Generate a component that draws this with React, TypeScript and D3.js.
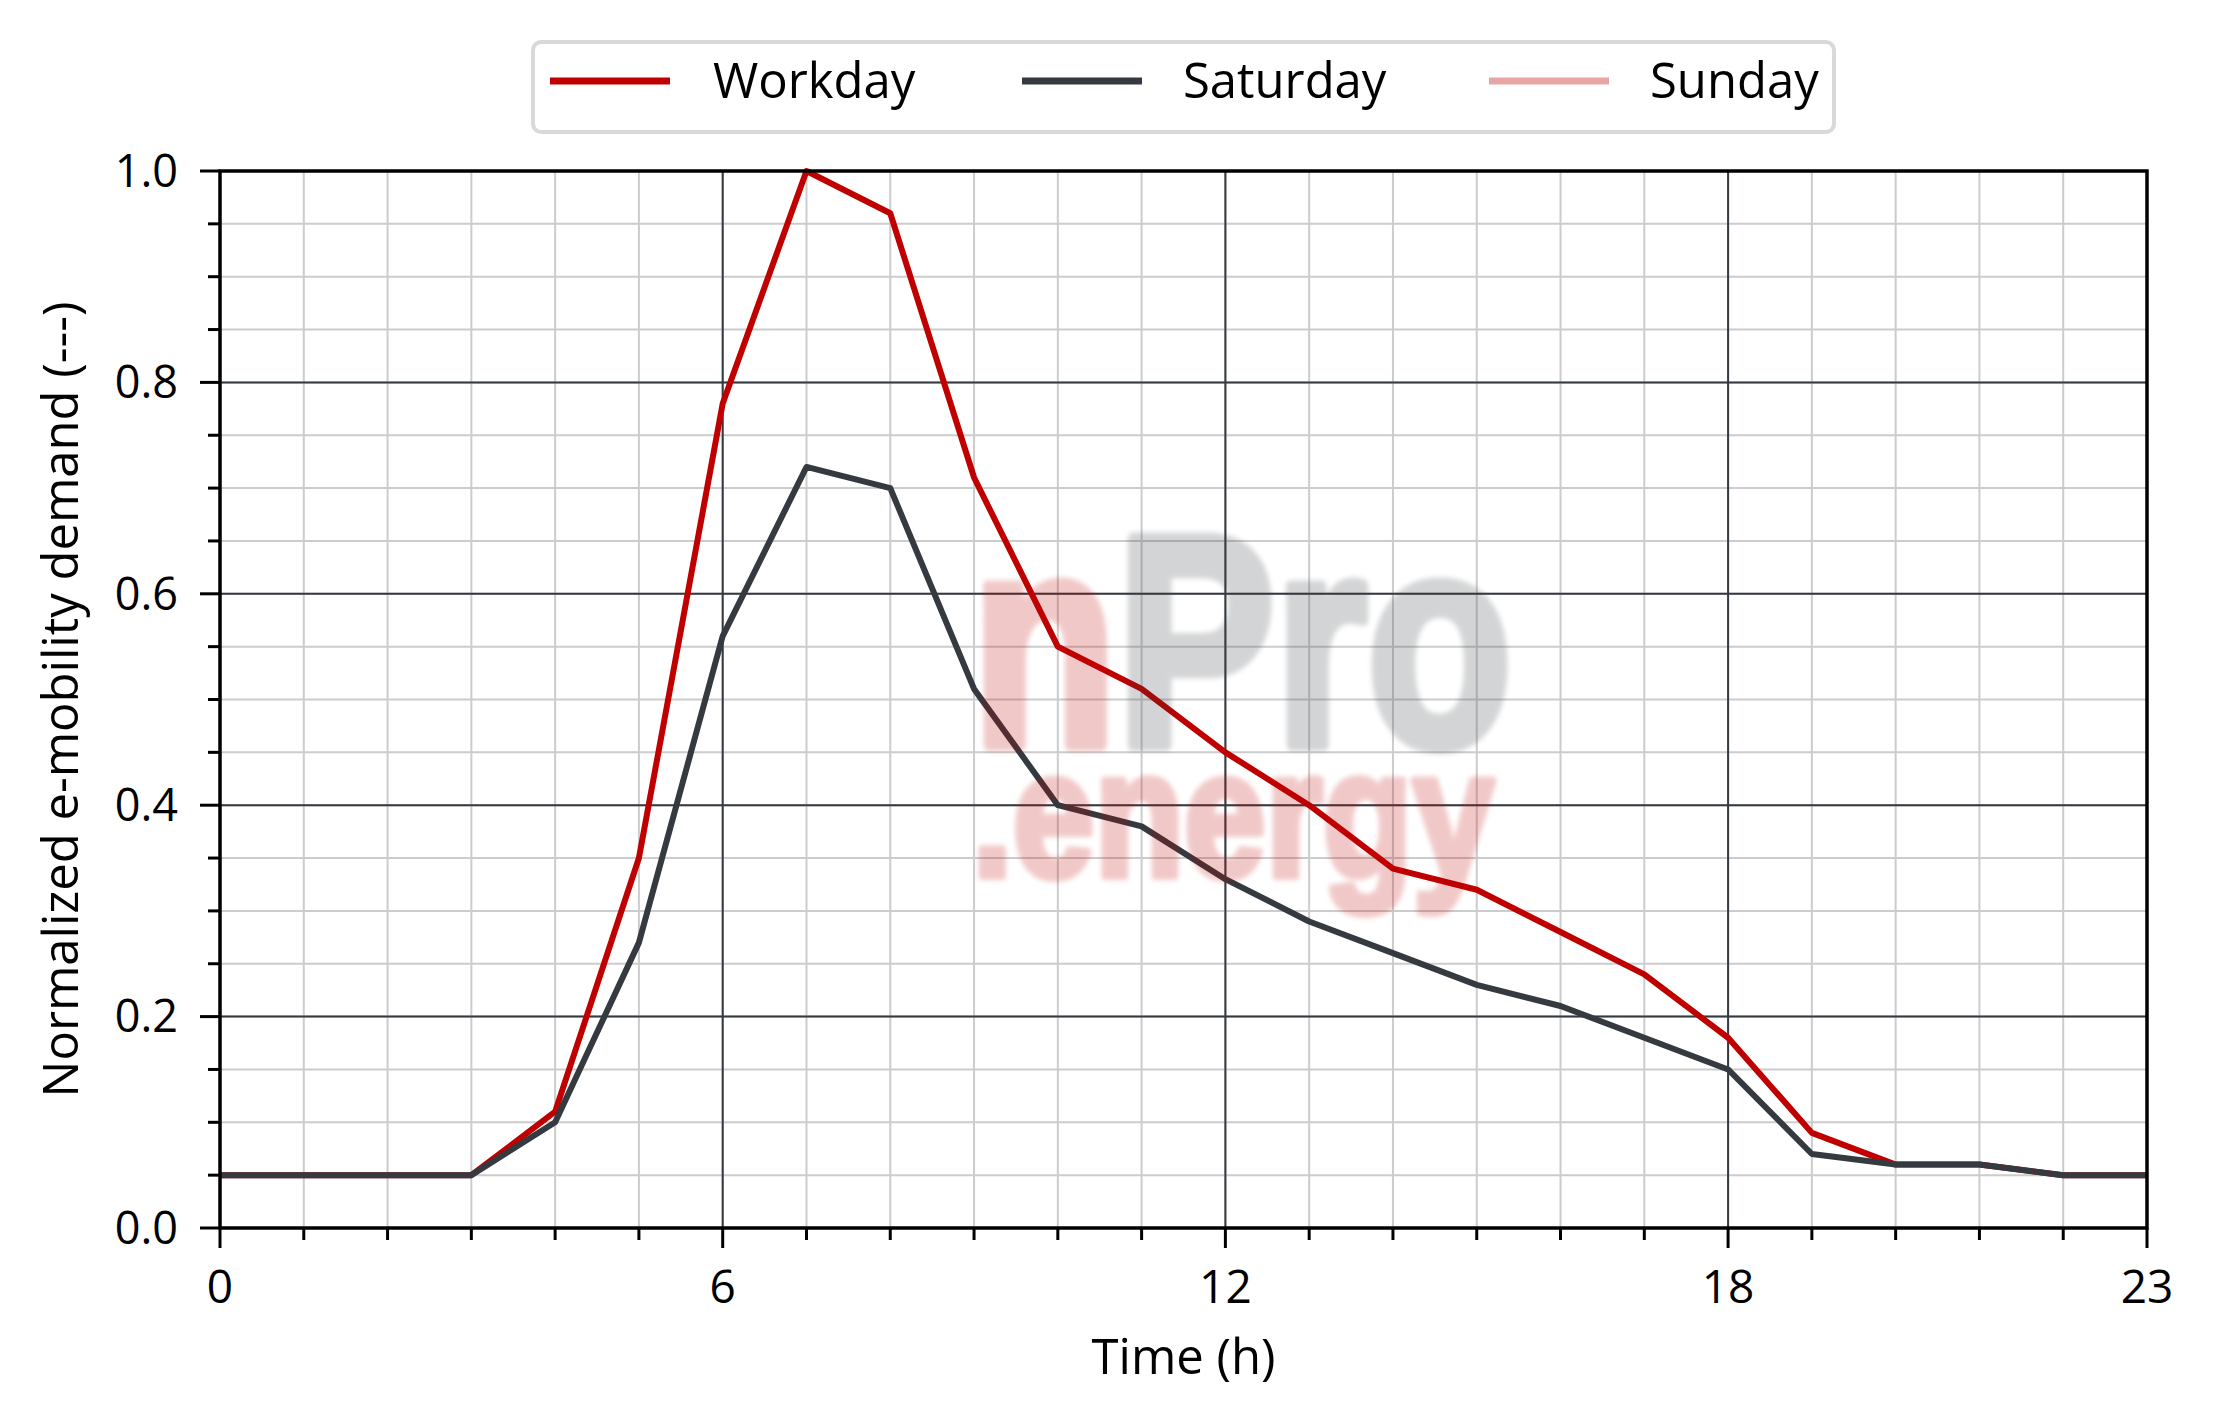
import React from "react";
import * as d3 from "d3";

const hours = d3.range(0, 24);
const workday = [0.05, 0.05, 0.05, 0.05, 0.11, 0.35, 0.78, 1.0, 0.96, 0.71, 0.55, 0.51, 0.45, 0.40, 0.34, 0.32, 0.28, 0.24, 0.18, 0.09, 0.06, 0.06, 0.05, 0.05];
const saturday = [0.05, 0.05, 0.05, 0.05, 0.10, 0.27, 0.56, 0.72, 0.70, 0.51, 0.40, 0.38, 0.33, 0.29, 0.26, 0.23, 0.21, 0.18, 0.15, 0.07, 0.06, 0.06, 0.05, 0.05];
const sunday: number[] = [];
const seriesNames = ["Workday", "Saturday", "Sunday"];
const seriesColors = ["#c00000", "#343a40", "#e8a5a5"];
const xMajorTicks = [0, 6, 12, 18, 23];
const yMajorTicks = [0, 0.2, 0.4, 0.6, 0.8, 1.0];

const W = 2216, H = 1424;
const L = 220, R = 2147, T = 171, B = 1228;
const FONT = "'Open Sans', sans-serif";

export default function App() {
  const x = d3.scaleLinear().domain([0, 23]).range([L, R]);
  const y = d3.scaleLinear().domain([0, 1]).range([B, T]);
  const line = d3.line<number>().x((_, i) => x(hours[i])).y((d) => y(d));
  const minorX = d3.range(0, 24);
  const minorY = d3.range(0, 21).map((v) => v * 0.05);
  const data = [workday, saturday, sunday];

  const legendItems = [
    { lx: 550, tx: 713 },
    { lx: 1022, tx: 1183 },
    { lx: 1489, tx: 1650 },
  ];

  return (
    <svg width={W} height={H} style={{ position: "absolute", left: 0, top: 0, display: "block", background: "#fff" }}>
      <defs>
        <filter id="wmblur" x="-10%" y="-10%" width="120%" height="120%">
          <feGaussianBlur stdDeviation="2.5" />
        </filter>
        <clipPath id="plotclip">
          <rect x={L} y={T - 4} width={R - L} height={B - T + 4} />
        </clipPath>
      </defs>
      <rect x={0} y={0} width={W} height={H} fill="#fff" />
      {/* minor grid */}
      {minorX.map((h) => (
        <line key={"mx" + h} x1={x(h)} x2={x(h)} y1={T} y2={B} stroke="#cccccc" strokeWidth={2} />
      ))}
      {minorY.map((v, i) => (
        <line key={"my" + i} x1={L} x2={R} y1={y(v)} y2={y(v)} stroke="#cccccc" strokeWidth={2} />
      ))}
      {/* major grid */}
      {[6, 12, 18].map((h) => (
        <line key={"Mx" + h} x1={x(h)} x2={x(h)} y1={T} y2={B} stroke="#343a40" strokeWidth={2} />
      ))}
      {[0.2, 0.4, 0.6, 0.8].map((v) => (
        <line key={"My" + v} x1={L} x2={R} y1={y(v)} y2={y(v)} stroke="#343a40" strokeWidth={2} />
      ))}
      {/* data lines */}
      <g clipPath="url(#plotclip)">
        {data.map((d, i) =>
          d.length ? (
            <path key={seriesNames[i]} d={line(d) || ""} fill="none" stroke={seriesColors[i]} strokeWidth={6} strokeLinejoin="round" />
          ) : null
        )}
      </g>
      {/* watermark */}
      <g filter="url(#wmblur)" opacity={0.21} fontFamily="'Liberation Sans', Arial, sans-serif" fontWeight="bold">
        <text x={972} y={745} fontSize={300} textLength={540} lengthAdjust="spacingAndGlyphs" strokeWidth={12} strokeLinejoin="round">
          <tspan fill="#c00000" stroke="#c00000">n</tspan>
          <tspan fill="#343a40" stroke="#343a40">Pro</tspan>
        </text>
        <text x={972} y={876} fontSize={180} textLength={522} lengthAdjust="spacingAndGlyphs" fill="#c00000" stroke="#c00000" strokeWidth={8} strokeLinejoin="round">
          .energy
        </text>
      </g>
      {/* spines */}
      <rect x={L} y={T} width={R - L} height={B - T} fill="none" stroke="#000" strokeWidth={3.5} />
      {/* ticks */}
      {minorX.map((h) => (
        <line key={"tx" + h} x1={x(h)} x2={x(h)} y1={B} y2={B + (xMajorTicks.includes(h) ? 20 : 12)} stroke="#000" strokeWidth={3} />
      ))}
      {minorY.map((v, i) => (
        <line key={"ty" + i} x1={L} x2={L - (i % 4 === 0 ? 20 : 12)} y1={y(v)} y2={y(v)} stroke="#000" strokeWidth={3} />
      ))}
      {xMajorTicks.map((h) => (
        <text key={"lx" + h} x={x(h)} y={1303} textAnchor="middle" fontFamily={FONT} fontSize={46} fill="#000">
          {h}
        </text>
      ))}
      {yMajorTicks.map((v) => (
        <text key={"ly" + v} x={178} y={y(v)} dy="0.35em" textAnchor="end" fontFamily={FONT} fontSize={45} fill="#000">
          {v.toFixed(1)}
        </text>
      ))}
      <text x={(L + R) / 2} y={1374} textAnchor="middle" fontFamily={FONT} fontSize={49} fill="#000">
        Time (h)
      </text>
      <text transform={`translate(78, ${(T + B) / 2}) rotate(-90)`} textAnchor="middle" fontFamily={FONT} fontSize={49} fill="#000">
        Normalized e-mobility demand (---)
      </text>
      {/* legend */}
      <rect x={533} y={42} width={1301} height={90} rx={8} fill="#fff" stroke="#d9d9d9" strokeWidth={4} />
      {seriesNames.map((n, i) => (
        <g key={"leg" + n}>
          <line x1={legendItems[i].lx} x2={legendItems[i].lx + 120} y1={81} y2={81} stroke={seriesColors[i]} strokeWidth={7} />
          <text x={legendItems[i].tx} y={98} fontFamily={FONT} fontSize={49} fill="#000">
            {n}
          </text>
        </g>
      ))}
    </svg>
  );
}
